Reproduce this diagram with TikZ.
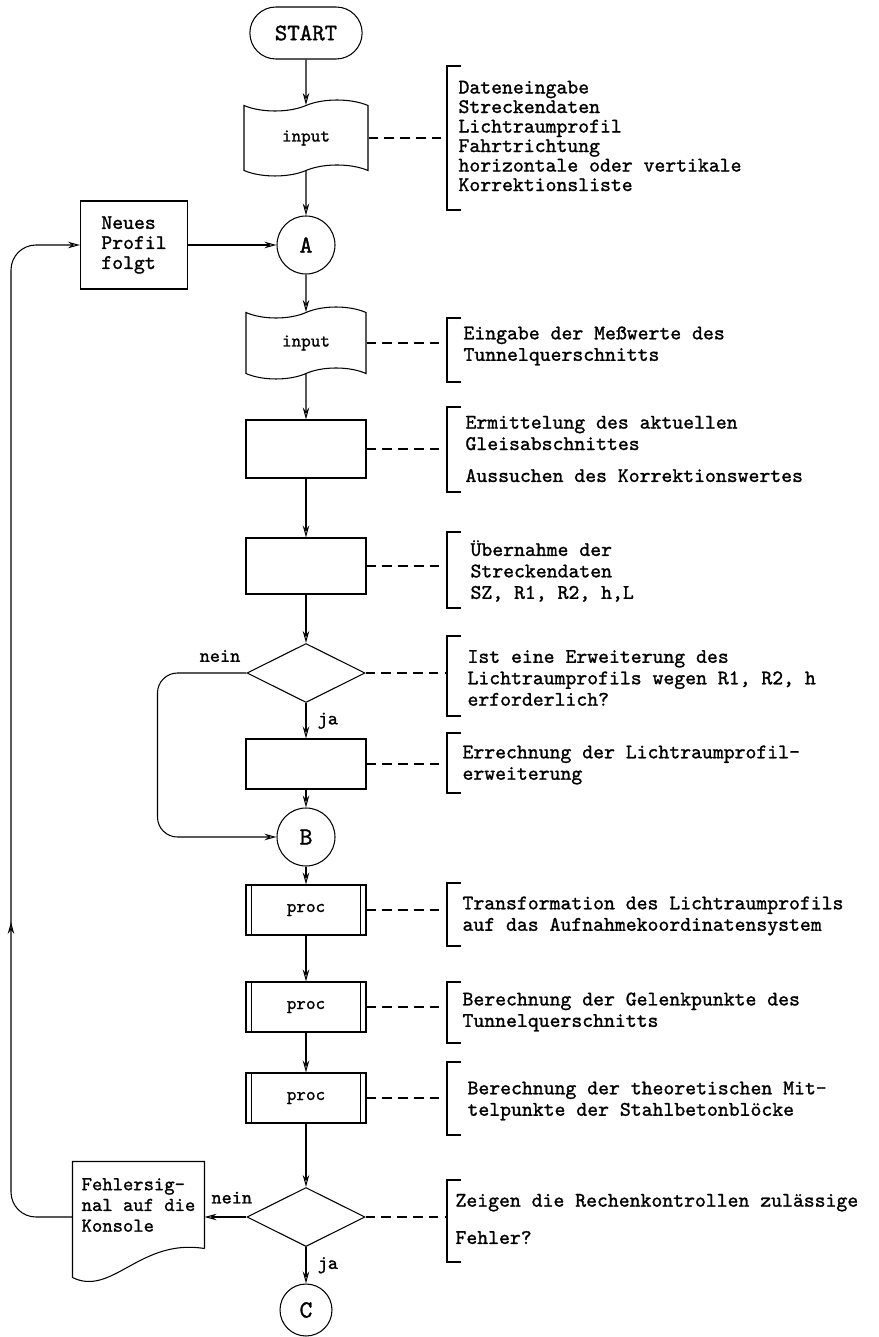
\documentclass[tikz,border=0pt]{standalone}
\usepackage{fontspec}
\setmainfont{lmmono10-regular}[Extension=.otf, FakeBold=1.2]
\usetikzlibrary{shapes.geometric,shapes.misc,shapes.symbols,arrows.meta,decorations.markings}

\tikzset{
  tip/.style={-{Stealth[open,length=2.4mm,width=1.3mm]}},
  flow/.style={draw, tip},
  link/.style={draw, dash pattern=on 5.5pt off 3.5pt},
  term/.style={draw, rounded rectangle, minimum width=2.48cm, minimum height=1.04cm, font=\fontsize{13.5}{15}\selectfont},
  tapebox/.style={draw, tape, tape bend height=0.22cm, minimum width=2.4cm, minimum height=1.44cm, font=\fontsize{10.4}{12}\selectfont},
  box/.style={draw, minimum width=2.4cm, minimum height=1.12cm},
  proc/.style={draw, minimum width=2.4cm, minimum height=1cm, font=\fontsize{10.4}{12}\selectfont,
    path picture={
      \draw ([xshift=1.1mm]path picture bounding box.north west) -- ([xshift=1.1mm]path picture bounding box.south west);
      \draw ([xshift=-1.1mm]path picture bounding box.north east) -- ([xshift=-1.1mm]path picture bounding box.south east);}},
  test/.style={draw, diamond, aspect=2, inner sep=0pt, minimum width=2.36cm, minimum height=1.18cm},
  conn/.style={draw, circle, minimum size=1.16cm, inner sep=0pt, font=\fontsize{14}{16}\selectfont},
  note/.style={anchor=west, align=left, inner sep=0pt, font=\fontsize{11.8}{12.2}\selectfont},
  lbl/.style={font=\fontsize{11}{12}\selectfont}
}

% bracket at the left of a comment, from #1 to #2
\def\drawBracket#1#2{
\draw (461,#1) -- (447,#1) -- (447,#2) -- (461,#2);
}

\begin{document}
\begin{tikzpicture}[x=0.02cm, y=-0.02cm, line width=0.6pt]
	\useasboundingbox (0,0) rectangle (878,1337);
	% main column
	\node[term] (start) at (306,33) {START};
	\node[tapebox, minimum width=2.48cm, minimum height=1.52cm] (in1) at (306,138) {input};
	\node[conn] (A) at (306,245) {A};
	\node[box, align=left, minimum width=2.14cm, minimum height=1.76cm, font=\fontsize{11.8}{11.4}\selectfont] (neu) at (134,245) {Neues\\Profil\\folgt};
	\node[tapebox] (in2) at (306,343) {input};
	\node[box, minimum height=1.16cm] (b1) at (306,449) {};
	\node[box] (b2) at (306,566) {};
	\node[test] (d1) at (306,673) {};
	\node[box, minimum height=1cm] (b3) at (306,764) {};
	\node[conn] (B) at (306,837) {B};
	\node[proc] (p1) at (306,910) {proc};
	\node[proc] (p2) at (306,1007) {proc};
	\node[proc] (p3) at (306,1098) {proc};
	\node[test] (d2) at (306,1217) {};
	\node[conn, minimum size=1.04cm] (C) at (306,1310) {C};
	\node[minimum width=2.62cm, minimum height=1.72cm, align=left, font=\fontsize{11.2}{11.8}\selectfont] (fehl) at (138.5,1205) {Fehlersig-\\nal auf die\\Konsole};
	\draw (fehl.south east) -- (fehl.north east) -- (fehl.north west) -- ([yshift=-0.58cm]fehl.south west)
		.. controls (112,1297) and (140,1238) .. (fehl.south east);

	% flow lines
	\draw[flow] (start) -- (in1);
	\draw[flow] (in1) -- (A);
	\draw[flow] (neu) -- (A);
	\draw[flow] (A) -- (in2);
	\draw[flow] (in2) -- (b1);
	\draw[flow] (b1) -- (b2);
	\draw[flow] (b2) -- (d1);
	\draw[flow] (d1) -- node[right=3pt, lbl] (ja1) {ja} (b3);
	\draw[flow] (b3) -- (B);
	\draw[flow, rounded corners=0.4cm] (d1.west) -- ++(-89,0) |- (B.west);
	\node[lbl] (nein1) at (220,656) {nein};
	\draw[flow] (B) -- (p1);
	\draw[flow] (p1) -- (p2);
	\draw[flow] (p2) -- (p3);
	\draw[flow] (p3) -- (d2);
	\draw[flow] (d2) -- node[right=3pt, lbl] (ja2) {ja} (C);
	\draw[flow] (d2.west) -- node[above=4pt, pos=0.35, lbl] (nein2) {nein} (fehl.east |- d2.west);
	\draw[flow, rounded corners=0.5cm, postaction={decorate, decoration={markings,
		mark=at position 0.32 with {\arrow{Stealth[open,length=2.4mm,width=1.3mm]}}}}]
		(fehl.west |- d2.west) -| ([xshift=-1.38cm]neu.west) -- (neu.west);

	% comments
	\coordinate (n1) at (447,138);
	\coordinate (n2) at (447,343);
	\coordinate (n3) at (447,449);
	\coordinate (n4) at (447,566);
	\coordinate (n5) at (447,673);
	\coordinate (n6) at (447,764);
	\coordinate (n7) at (447,910);
	\coordinate (n8) at (447,1007);
	\coordinate (n9) at (447,1098);
	\coordinate (n10) at (447,1217);
	\draw[link] (in1.east) -- (n1);
	\draw[link] (in2.east) -- (n2);
	\draw[link] (b1) -- (n3);
	\draw[link] (b2) -- (n4);
	\draw[link] (d1) -- (n5);
	\draw[link] (b3) -- (n6);
	\draw[link] (p1) -- (n7);
	\draw[link] (p2) -- (n8);
	\draw[link] (p3) -- (n9);
	\draw[link] (d2) -- (n10);
	\drawBracket{66}{210}
	\drawBracket{318}{382}
	\drawBracket{407}{492}
	\drawBracket{532}{608}
	\drawBracket{636}{716}
	\drawBracket{733}{793}
	\drawBracket{883}{946}
	\drawBracket{982}{1043}
	\drawBracket{1062}{1135}
	\drawBracket{1180}{1262}
	\node[note, font=\fontsize{11.8}{11.1}\selectfont] (t1) at (458,136) {Dateneingabe\\Streckendaten\\Lichtraumprofil\\Fahrtrichtung\\horizontale oder vertikale\\Korrektionsliste};
	\node[note] (t2) at (463,346) {Eingabe der Meßwerte des\\Tunnelquerschnitts};
	\node[note] (t3) at (465,449) {Ermittelung des aktuellen\\Gleisabschnittes\\[6pt]Aussuchen des Korrektionswertes};
	\node[note] (t4) at (470,571) {Übernahme der\\Streckendaten\\SZ, R1, R2, h,L};
	\node[note] (t5) at (467,678) {Ist eine Erweiterung des\\Lichtraumprofils wegen R1, R2, h\\erforderlich?};
	\node[note] (t6) at (462,765) {Errechnung der Lichtraumprofil-\\erweiterung};
	\node[note] (t7) at (462,916) {Transformation des Lichtraumprofils\\auf das Aufnahmekoordinatensystem};
	\node[note] (t8) at (462,1012) {Berechnung der Gelenkpunkte des\\Tunnelquerschnitts};
	\node[note] (t9) at (467,1101) {Berechnung der theoretischen Mit-\\telpunkte der Stahlbetonblöcke};
	\node[note] (t10) at (455,1219) {Zeigen die Rechenkontrollen zulässige\\[9pt]Fehler?};
\end{tikzpicture}
\end{document}
